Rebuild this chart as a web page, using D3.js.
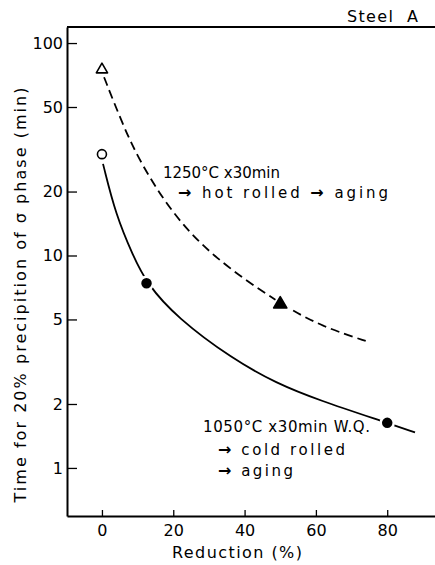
<!DOCTYPE html>
<html>
<head>
<meta charset="utf-8" />
<title>Steel A</title>
<script src="https://cdn.jsdelivr.net/npm/d3@7"></script>
<style>
    body { margin: 0; background: #fff; }
    svg text { font-family: "DejaVu Sans", sans-serif; fill: #000; }
    .axis path, .axis line { stroke: #000; }
</style>
</head>
<body>
<svg width="435" height="565"></svg>
<script>
// reduction (%) / time (min)
var hotCurveX = [0.6, 5.9, 10.7, 19.6, 31.1, 50, 62, 75.2];
var hotCurveY = [69, 41, 27.5, 15.8, 9.8, 5.9, 4.6, 3.9];
var coldCurveX = [0.3, 3.9, 8.7, 12.5, 21, 36.7, 49, 60.6, 80, 87.8];
var coldCurveY = [27, 15.5, 10, 7.4, 5.1, 3.25, 2.5, 2.09, 1.63, 1.47];

var hotPtsX = [0, 50];
var hotPtsY = [75, 5.9];
var hotPtsFilled = [false, true];
var coldPtsX = [0, 12.5, 80];
var coldPtsY = [30, 7.4, 1.63];
var coldPtsFilled = [false, true, true];

var xTicks = [0, 20, 40, 60, 80];
var yTicks = [1, 2, 5, 10, 20, 50, 100];

var svg = d3.select("svg");

var x = d3.scaleLinear().domain([-9.8, 93.4]).range([67, 435]);
var y = d3.scaleLog().domain([0.594, 119]).range([516, 27]);

// frame: left, top and bottom lines
svg.append("line").attr("x1", 67).attr("x2", 435).attr("y1", 27).attr("y2", 27)
    .attr("stroke", "#000").attr("stroke-width", 1.8);

var yAxis = svg.append("g").attr("class", "axis")
    .attr("transform", "translate(67,0)")
    .call(d3.axisLeft(y).tickValues(yTicks).tickFormat(d3.format("d"))
        .tickSizeInner(-10).tickSizeOuter(0).tickPadding(4));
yAxis.select(".domain").attr("stroke-width", 2);
yAxis.selectAll(".tick line").attr("stroke-width", 1.3);
yAxis.selectAll(".tick text").attr("font-size", 16).attr("font-family", "DejaVu Sans");

var xAxis = svg.append("g").attr("class", "axis")
    .attr("transform", "translate(0,516)")
    .call(d3.axisBottom(x).tickValues(xTicks).tickFormat(d3.format("d"))
        .tickSizeInner(-6).tickSizeOuter(0).tickPadding(6));
xAxis.select(".domain").attr("stroke-width", 2);
xAxis.selectAll(".tick line").attr("stroke-width", 1.3);
xAxis.selectAll(".tick text").attr("font-size", 16).attr("font-family", "DejaVu Sans").attr("dy", "0.9em");

// curves (smoothed through the read points)
var line = d3.line()
    .x(function (d) { return x(d[0]); })
    .y(function (d) { return y(d[1]); })
    .curve(d3.curveBasis);

svg.append("path")
    .datum(d3.zip(hotCurveX, hotCurveY))
    .attr("d", line).attr("fill", "none")
    .attr("stroke", "#000").attr("stroke-width", 1.8)
    .attr("stroke-dasharray", "9,5");

svg.append("path")
    .datum(d3.zip(coldCurveX, coldCurveY))
    .attr("d", line).attr("fill", "none")
    .attr("stroke", "#000").attr("stroke-width", 1.8);

// markers: white halo first, then the mark
var tri = d3.symbol().type(d3.symbolTriangle);
function pos(d) { return "translate(" + x(d[0]) + "," + y(d[1]) + ")"; }

var hot = d3.zip(hotPtsX, hotPtsY, hotPtsFilled);
svg.selectAll(".hothalo").data(hot).enter()
    .append("path").attr("class", "hothalo")
    .attr("transform", pos)
    .attr("d", function (d) { return tri.size(d[2] ? 75 : 55)(); })
    .attr("fill", "#fff").attr("stroke", "#fff").attr("stroke-width", 5);
svg.selectAll(".hotpt").data(hot).enter()
    .append("path").attr("class", "hotpt")
    .attr("transform", pos)
    .attr("d", function (d) { return tri.size(d[2] ? 75 : 55)(); })
    .attr("fill", function (d) { return d[2] ? "#000" : "#fff"; })
    .attr("stroke", "#000").attr("stroke-width", 1.6)
    .attr("stroke-linejoin", "round");

var cold = d3.zip(coldPtsX, coldPtsY, coldPtsFilled);
svg.selectAll(".coldpt").data(cold).enter()
    .append("circle").attr("class", "coldpt")
    .attr("cx", function (d) { return x(d[0]); })
    .attr("cy", function (d) { return y(d[1]); })
    .attr("r", function (d) { return d[2] ? 6.5 : 4.5; })
    .attr("fill", function (d) { return d[2] ? "#000" : "#fff"; })
    .attr("stroke", function (d) { return d[2] ? "#fff" : "#000"; })
    .attr("stroke-width", function (d) { return d[2] ? 2.5 : 1.6; });

// texts
svg.append("text").attr("x", 347).attr("y", 22).attr("font-size", 16)
    .attr("textLength", 71).attr("lengthAdjust", "spacing")
    .style("white-space", "pre").text("Steel  A");

svg.append("text")
    .attr("transform", "translate(26,295) rotate(-90)")
    .attr("text-anchor", "middle").attr("font-size", 16)
    .attr("textLength", 415).attr("lengthAdjust", "spacing")
    .text("Time for 20% precipition of σ phase (min)");

svg.append("text").attr("x", 172).attr("y", 558).attr("font-size", 16)
    .attr("textLength", 130).attr("lengthAdjust", "spacing")
    .text("Reduction (%)");

// annotation lines; "→" drawn bold like the original arrows
var notes = [
    [["1250°C x30min"], 163, 178, 117],
    [["→", " hot rolled ", "→", " aging"], 178, 198, 210],
    [["1050°C x30min W.Q."], 203, 432, 167],
    [["→", " cold rolled"], 218, 455, 127],
    [["→", " aging"], 218, 476, 75]
];
var note = svg.selectAll(".note").data(notes).enter().append("text")
    .attr("class", "note")
    .attr("x", function (d) { return d[1]; })
    .attr("y", function (d) { return d[2]; })
    .attr("font-size", 15)
    .attr("textLength", function (d) { return d[3]; })
    .attr("lengthAdjust", "spacing")
    .style("white-space", "pre");
note.selectAll("tspan").data(function (d) { return d[0]; }).enter().append("tspan")
    .attr("font-size", function (s) { return s === "→" ? 16 : 15; })
    .attr("font-weight", function (s) { return s === "→" ? "bold" : "normal"; })
    .text(function (s) { return s; });
</script>
</body>
</html>
